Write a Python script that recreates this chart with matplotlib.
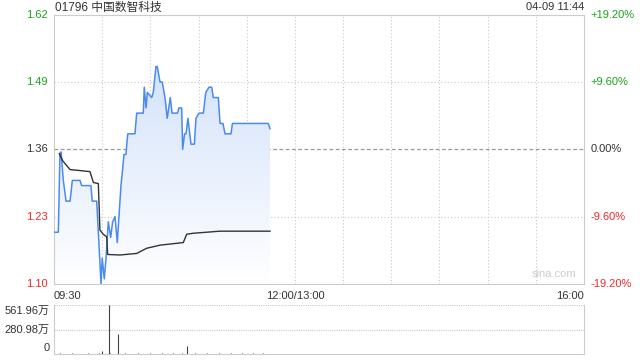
import numpy as np
import matplotlib.pyplot as plt
from matplotlib.colors import LinearSegmentedColormap

# price line, minutes since 09:30 (trading minutes, lunch removed)
price_min = [0.6, 2.7, 3.7, 4.4, 5.8, 7.5, 10, 11.4, 16.2, 17.2, 23, 23.8, 26.6, 29.3,
             30, 31.3, 32.4, 33.8, 35.3, 36.5, 38, 39.4, 41.7, 43.6, 44.8, 45.9, 50.4,
             51.5, 55.6, 56.2, 57.3, 58.1, 60.8, 61.8, 63.5, 64.3, 66, 67.4, 69.1, 70.5,
             72.4, 73.5, 76.9, 77.8, 79.5, 80.1, 81.3, 82.2, 83.4, 85.3, 87.4, 88.4, 90.3,
             93, 94.5, 96.5, 98.2, 99.2, 102.3, 103.4, 105.2, 106.5, 110.2, 111.1, 133.4, 134.5]
price = [1.20, 1.20, 1.35, 1.355, 1.30, 1.26, 1.26, 1.30, 1.30, 1.29, 1.29, 1.26, 1.26, 1.10,
         1.15, 1.11, 1.15, 1.22, 1.19, 1.22, 1.23, 1.18, 1.29, 1.35, 1.35, 1.39, 1.39,
         1.43, 1.43, 1.48, 1.44, 1.47, 1.46, 1.47, 1.52, 1.52, 1.49, 1.49, 1.46, 1.42,
         1.46, 1.43, 1.43, 1.44, 1.44, 1.36, 1.39, 1.39, 1.42, 1.37, 1.37, 1.42, 1.43,
         1.43, 1.47, 1.48, 1.48, 1.46, 1.46, 1.41, 1.41, 1.39, 1.39, 1.41, 1.41, 1.40]

# average price line
avg_min = [3.3, 5.4, 10, 16.2, 22.4, 24.5, 27.6, 28.6, 30.7, 32.8, 33.4, 41.1, 51.5,
           57.7, 66, 80.5, 82.6, 86.7, 103.4, 134.5]
avg = [1.352, 1.338, 1.321, 1.319, 1.317, 1.296, 1.294, 1.204, 1.196, 1.191, 1.157, 1.156,
       1.159, 1.169, 1.175, 1.18, 1.196, 1.198, 1.202, 1.202]

# volume (万), per minute
vol = [3, 5, 2, 4, 6, 3, 4, 2, 5, 3, 4, 6, 2, 3, 5, 4, 3, 2, 4, 5, 3, 6, 4, 2, 3, 5,
       4, 3, 6, 2, 34, 5, 4, 3, 561.96, 6, 4, 3, 5, 2, 229, 4, 3, 5, 6, 2, 4, 3, 5, 4,
       3, 2, 6, 4, 5, 3, 2, 4, 3, 5, 6, 4, 2, 3, 5, 4, 3, 6, 2, 4, 5, 3, 4, 2, 6, 3,
       5, 4, 2, 3, 6, 4, 5, 95, 3, 2, 4, 5, 6, 3, 4, 2, 5, 3, 4, 6, 2, 3, 5, 4, 3, 2,
       4, 6, 5, 3, 2, 4, 5, 3, 6, 4, 2, 3, 5, 4, 3, 6, 2, 4, 5, 3, 4, 2, 6, 3, 5, 4,
       2, 3, 6, 4, 5, 3]

prev_close = 1.36
y_ticks = [1.62, 1.49, 1.36, 1.23, 1.10]
pct_labels = ['+19.20%', '+9.60%', '0.00%', '-9.60%', '-19.20%']
vol_ticks = [0, 280.98, 561.96]
vol_labels = ['0', '280.98万', '561.96万']

GREEN = '#1aa31a'
RED = '#f02828'
DARK = '#333333'
BLUE = '#4a8af0'
plt.rcParams['font.family'] = ['Liberation Sans', 'Noto Sans CJK SC', 'DejaVu Sans']

fig = plt.figure(figsize=(6.4, 3.6), dpi=100)
ax = fig.add_axes([54 / 640, 76 / 360, 530 / 640, 269.3 / 360])
axv = fig.add_axes([54 / 640, 6 / 360, 530 / 640, 49 / 360])

# gradient fill under price
ax.set_xlim(0, 330)
ax.set_ylim(1.10, 1.62)
cmap = LinearSegmentedColormap.from_list('g', ['#ffffff', '#d3e2fa'])
grad = np.linspace(0, 1, 256).reshape(-1, 1)
im = ax.imshow(grad, cmap=cmap, extent=[0, 330, 1.10, 1.53], origin='lower',
               aspect='auto', zorder=1)
poly = ax.fill_between(price_min, price, 1.10, color='none', lw=0)
im.set_clip_path(poly.get_paths()[0], transform=ax.transData)

ax.plot(price_min, price, color=BLUE, lw=1.1, zorder=3)
ax.plot(avg_min, avg, color=DARK, lw=1.0, zorder=3)

# grid
for t in range(30, 330, 30):
    ax.axvline(t, color='#c8c8c8', lw=0.8, ls=(0, (1, 2)), zorder=0)
for v in y_ticks[1:-1]:
    if v == prev_close:
        ax.axhline(v, color='#999999', lw=0.9, ls=(0, (3, 2)), zorder=0)
    else:
        ax.axhline(v, color='#c8c8c8', lw=0.8, ls=(0, (1, 2)), zorder=0)

ax.set_xticks([])
ax.set_yticks([])
for s in ax.spines.values():
    s.set_color('#cccccc')

for v, p in zip(y_ticks, pct_labels):
    c = GREEN if v > prev_close else (RED if v < prev_close else DARK)
    ax.text(-0.012, v, f'{v:.2f}', color=c, fontsize=8, ha='right', va='center',
            transform=ax.get_yaxis_transform())
    ax.text(1.012, v, p, color=c, fontsize=8, ha='left', va='center',
            transform=ax.get_yaxis_transform())

fig.text(55 / 640, 1 - 7.5 / 360, '01796 中国数智科技', fontsize=8.5, color=DARK,
         ha='left', va='center')
fig.text(584 / 640, 1 - 7.5 / 360, '04-09 11:44', fontsize=8, color=DARK,
         ha='right', va='center')
ax.text(0.985, 0.02, 'sina.com', fontsize=8, color='#cccccc', ha='right', va='bottom',
        transform=ax.transAxes)

ax.text(0, -0.025, '09:30', fontsize=8, color=DARK, ha='left', va='top', transform=ax.transAxes)
ax.text(150 / 330, -0.025, '12:00/13:00', fontsize=8, color=DARK, ha='center', va='top',
        transform=ax.transAxes)
ax.text(1, -0.025, '16:00', fontsize=8, color=DARK, ha='right', va='top', transform=ax.transAxes)

# volume
axv.set_xlim(0, 330)
axv.set_ylim(0, 561.96)
axv.vlines(range(len(vol)), 0, vol, color='#444444', lw=0.8)
axv.axhline(280.98, color='#c8c8c8', lw=0.8, ls=(0, (1, 1)), zorder=0)
axv.axhline(561.96, color='#c8c8c8', lw=0.8, ls=(0, (1, 1)), zorder=0)
axv.set_xticks([])
axv.set_yticks([])
for s in axv.spines.values():
    s.set_color('#cccccc')
axv.spines['top'].set_visible(False)
# labels sit slightly inside the panel, as in the reference
label_y = [1 - 348 / 360, 1 - 329.5 / 360, 1 - 310.7 / 360]
for yy, l in zip(label_y, vol_labels):
    fig.text(50 / 640, yy, l, fontsize=8, color=DARK, ha='right', va='center')

fig.savefig('out.png', dpi=100)
